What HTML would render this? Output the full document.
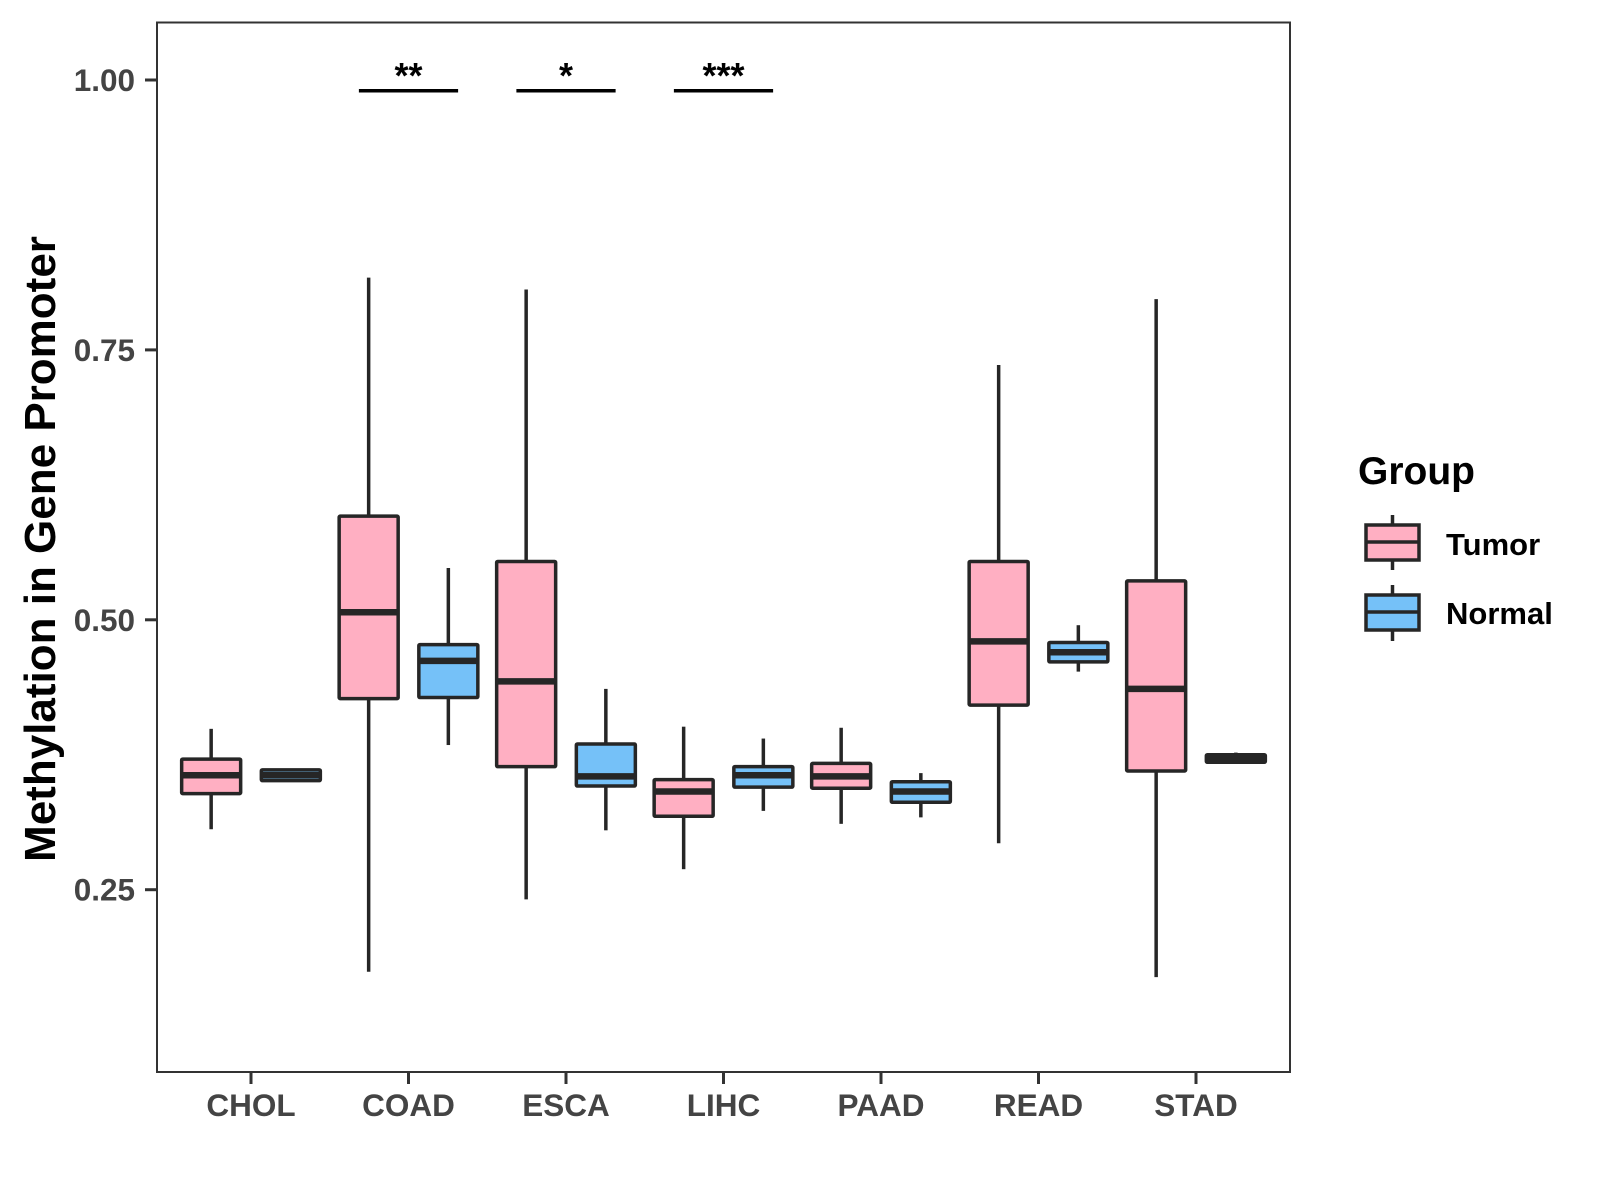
<!DOCTYPE html>
<html><head><meta charset="utf-8"><style>
body{margin:0;background:#fff;}
svg{display:block;font-family:"Liberation Sans",sans-serif;}
</style></head><body>
<svg id="chart" width="1600" height="1200" viewBox="0 0 1600 1200" xmlns="http://www.w3.org/2000/svg">
<rect x="0" y="0" width="1600" height="1200" fill="#fff"/>
<g id="marks"></g>
<rect x="157" y="22.5" width="1133" height="1049.5" fill="none" stroke="#333" stroke-width="2"/>
<g id="axes"></g>
<text transform="translate(55,549) rotate(-90)" text-anchor="middle" font-size="44" font-weight="bold" fill="#000">Methylation in Gene Promoter</text>
<g>
<text x="1358" y="484" font-size="39" font-weight="bold" fill="#000">Group</text>
<g>
<line x1="1392.5" y1="515" x2="1392.5" y2="570" stroke="#262626" stroke-width="3.5"/>
<rect x="1366" y="525" width="53" height="35" fill="#FFAFC2" stroke="#262626" stroke-width="3.5"/>
<line x1="1366" y1="542" x2="1419" y2="542" stroke="#262626" stroke-width="3.5"/>
<text x="1446" y="555" font-size="31" font-weight="bold" fill="#000">Tumor</text>
</g>
<g>
<line x1="1392.5" y1="585" x2="1392.5" y2="641" stroke="#262626" stroke-width="3.5"/>
<rect x="1366" y="595" width="53" height="35" fill="#75C1F8" stroke="#262626" stroke-width="3.5"/>
<line x1="1366" y1="612" x2="1419" y2="612" stroke="#262626" stroke-width="3.5"/>
<text x="1446" y="624" font-size="31" font-weight="bold" fill="#000">Normal</text>
</g>
</g>
</svg>
<script>
const categories = ["CHOL","COAD","ESCA","LIHC","PAAD","READ","STAD"];
// [lower whisker, q1, median, q3, upper whisker]
const tumorStats = [
 [0.306,0.339,0.356,0.371,0.399],
 [0.174,0.427,0.507,0.596,0.817],
 [0.241,0.364,0.443,0.554,0.806],
 [0.269,0.318,0.341,0.352,0.401],
 [0.311,0.344,0.355,0.367,0.400],
 [0.293,0.421,0.480,0.554,0.736],
 [0.169,0.360,0.436,0.536,0.797]
];
const normalStats = [
 [0.351,0.351,0.356,0.361,0.361],
 [0.384,0.428,0.462,0.477,0.548],
 [0.305,0.346,0.355,0.385,0.436],
 [0.323,0.345,0.356,0.364,0.390],
 [0.317,0.331,0.341,0.350,0.358],
 [0.452,0.461,0.470,0.479,0.495],
 [0.367,0.368,0.372,0.375,0.377]
];
const yTicks = [0.25,0.50,0.75,1.00];
const yTickLabels = ["0.25","0.50","0.75","1.00"];
const sigCategories = ["COAD","ESCA","LIHC"];
const sigLabels = ["**","*","***"];
const sigLevel = 0.99;

const NS="http://www.w3.org/2000/svg";
function yScale(v){ return 80 + (1.00 - v) * (269.9/0.25); }
function xScale(i){ return 251 + i * 157.5; }
const UNIT = 157.5;
function mk(tag, attrs, parent){
  const e=document.createElementNS(NS,tag);
  for(const k in attrs) e.setAttribute(k,attrs[k]);
  parent.appendChild(e); return e;
}
const marks=document.getElementById('marks');
const axes=document.getElementById('axes');
const STROKE="#262626";
function drawBox(stats, cx, fill, name){
  const g=mk('g',{},marks);
  
  
  const w=59;
  const [lo,q1,md,q3,hi]=stats;
  mk('line',{x1:cx,x2:cx,y1:yScale(hi),y2:yScale(q3),stroke:STROKE,'stroke-width':3.5},g);
  mk('line',{x1:cx,x2:cx,y1:yScale(q1),y2:yScale(lo),stroke:STROKE,'stroke-width':3.5},g);
  mk('rect',{x:cx-w/2,y:yScale(q3),width:w,height:Math.max(yScale(q1)-yScale(q3),0.5),fill:fill,stroke:STROKE,'stroke-width':3.5,rx:1},g);
  mk('line',{x1:cx-w/2,x2:cx+w/2,y1:yScale(md),y2:yScale(md),stroke:STROKE,'stroke-width':6.5},g);
}
categories.forEach((c,i)=>{
  drawBox(tumorStats[i], xScale(i)-0.253*UNIT, "#FFAFC2", "box-tumor-"+c.toLowerCase());
  drawBox(normalStats[i], xScale(i)+0.253*UNIT, "#75C1F8", "box-normal-"+c.toLowerCase());
  const t=mk('line',{x1:xScale(i),x2:xScale(i),y1:1072,y2:1084,stroke:"#333",'stroke-width':3},axes);
  
  
  const l=mk('text',{x:xScale(i),y:1116,'text-anchor':'middle','font-size':31.5,'font-weight':'bold',fill:'#444'},axes);
  
  
  l.textContent=c;
});
yTicks.forEach((v,i)=>{
  const t=mk('line',{x1:145,x2:157,y1:yScale(v),y2:yScale(v),stroke:"#333",'stroke-width':3},axes);
  
  
  const l=mk('text',{x:135,y:yScale(v)+11,'text-anchor':'end','font-size':31.5,'font-weight':'bold',fill:'#444'},axes);
  
  
  l.textContent=yTickLabels[i];
});
sigCategories.forEach((c,k)=>{
  const i=categories.indexOf(c);
  const y=yScale(sigLevel);
  const ln=mk('line',{x1:xScale(i)-0.315*UNIT,x2:xScale(i)+0.315*UNIT,y1:y,y2:y,stroke:"#000",'stroke-width':3.5},marks);
  
  
  const s=mk('text',{x:xScale(i),y:y-3,'text-anchor':'middle','font-size':36,'font-weight':'bold',fill:'#000'},marks);
  
  
  s.textContent=sigLabels[k];
});
</script>
</body></html>
